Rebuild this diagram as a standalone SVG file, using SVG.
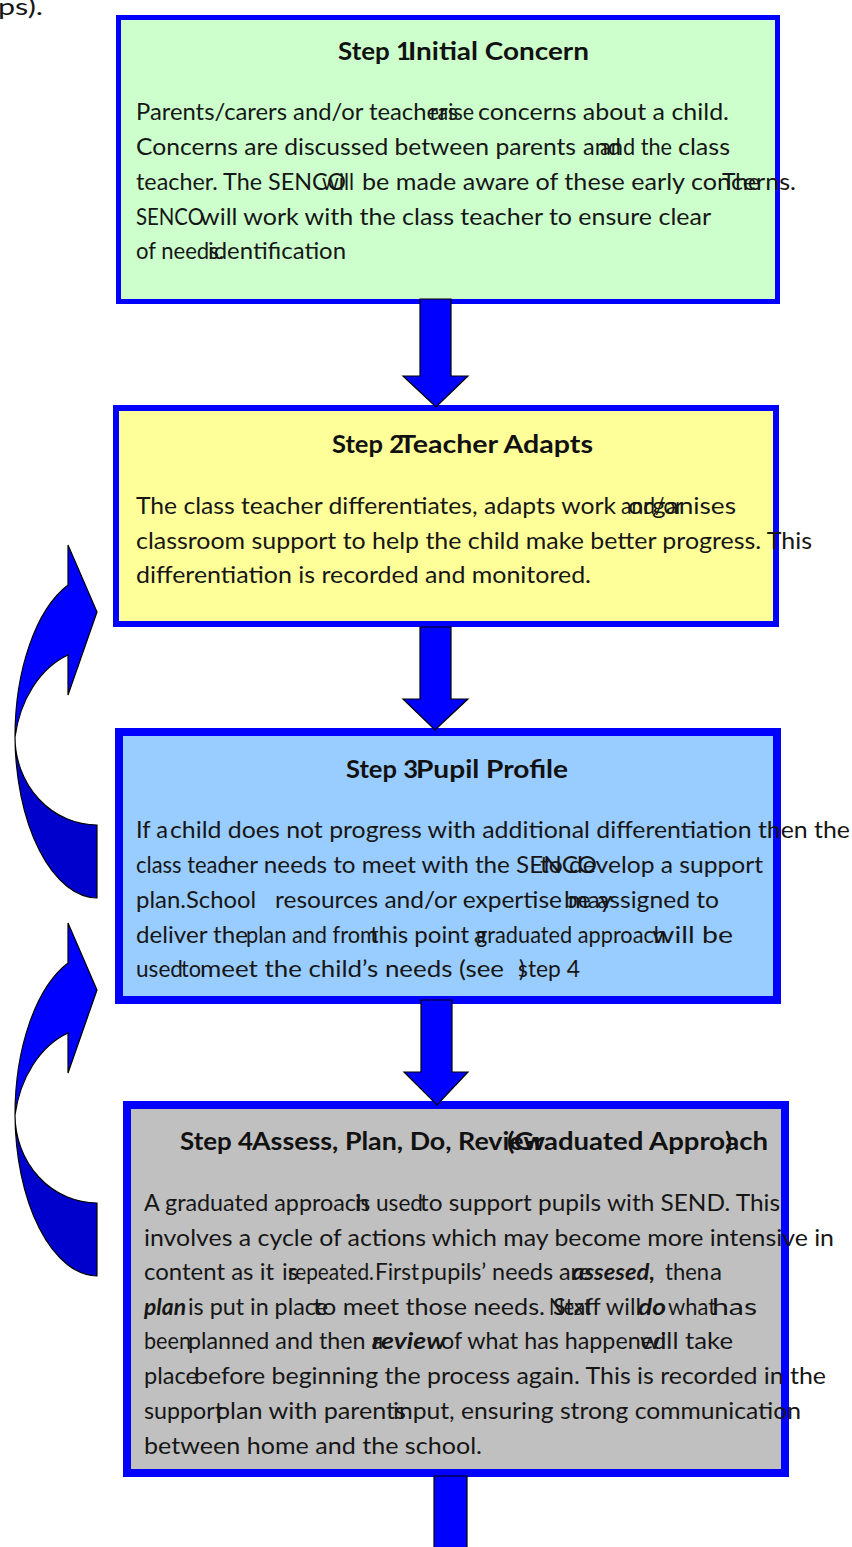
<svg xmlns="http://www.w3.org/2000/svg" width="852" height="1547" viewBox="0 0 852 1547">
<defs>
<style>
.t{font-family:Lato,"Open Sans","Liberation Sans",sans-serif;font-size:23.5px;fill:#161616}
.h{font-family:Lato,"Open Sans","Liberation Sans",sans-serif;font-size:24px;font-weight:bold;fill:#111}
.bi{font-weight:bold;font-style:italic}
.box{stroke:#0000ff}
.arr{fill:#0000ff;stroke:#000;stroke-width:1.2;stroke-linejoin:miter}
.dark{fill:#0000cc;stroke:#000;stroke-width:1.2}
</style>
</defs>
<rect x="0" y="0" width="852" height="1547" fill="#ffffff"/>
<text class="t" x="-2" y="15" textLength="45" lengthAdjust="spacingAndGlyphs">ps).</text>

<g id="step1">
<rect class="box" x="118.5" y="17.5" width="659" height="284" fill="#ccffcc" stroke-width="5"/>
<text class="h" x="338" y="60" textLength="73" lengthAdjust="spacingAndGlyphs">Step 1</text>
<text class="h" x="408" y="60" textLength="181" lengthAdjust="spacingAndGlyphs">Initial Concern</text>
<text class="t" x="136" y="120" textLength="322" lengthAdjust="spacingAndGlyphs">Parents/carers and/or teachers</text>
<text class="t" x="430" y="120" textLength="44" lengthAdjust="spacingAndGlyphs">raise</text>
<text class="t" x="478" y="120" textLength="251" lengthAdjust="spacingAndGlyphs">concerns about a child.</text>
<text class="t" x="136" y="155" textLength="440" lengthAdjust="spacingAndGlyphs">Concerns are discussed between parents</text>
<text class="t" x="583" y="155" textLength="38" lengthAdjust="spacingAndGlyphs">and</text>
<text class="t" x="600" y="155" textLength="72" lengthAdjust="spacingAndGlyphs">and the</text>
<text class="t" x="678" y="155" textLength="52" lengthAdjust="spacingAndGlyphs">class</text>
<text class="t" x="136" y="190" textLength="210" lengthAdjust="spacingAndGlyphs">teacher. The SENCO</text>
<text class="t" x="322" y="190" textLength="32" lengthAdjust="spacingAndGlyphs">will</text>
<text class="t" x="362" y="190" textLength="434" lengthAdjust="spacingAndGlyphs">be made aware of these early concerns.</text>
<text class="t" x="722" y="190" textLength="38" lengthAdjust="spacingAndGlyphs">The</text>
<text class="t" x="136" y="225" textLength="68" lengthAdjust="spacingAndGlyphs">SENCO</text>
<text class="t" x="200" y="225" textLength="511" lengthAdjust="spacingAndGlyphs">will work with the class teacher to ensure clear</text>
<text class="t" x="136" y="259" textLength="88" lengthAdjust="spacingAndGlyphs">of needs.</text>
<text class="t" x="208" y="259" textLength="138" lengthAdjust="spacingAndGlyphs">identification</text>
</g>

<g id="step2">
<rect class="box" x="116" y="408" width="660" height="216" fill="#ffff99" stroke-width="6"/>
<text class="h" x="332" y="453" textLength="72" lengthAdjust="spacingAndGlyphs">Step 2</text>
<text class="h" x="399" y="453" textLength="194" lengthAdjust="spacingAndGlyphs">Teacher Adapts</text>
<text class="t" x="136" y="514" textLength="480" lengthAdjust="spacingAndGlyphs">The class teacher differentiates, adapts work</text>
<text class="t" x="621" y="514" textLength="62" lengthAdjust="spacingAndGlyphs">and/or</text>
<text class="t" x="628" y="514" textLength="108" lengthAdjust="spacingAndGlyphs">organises</text>
<text class="t" x="136" y="549" textLength="676" lengthAdjust="spacingAndGlyphs">classroom support to help the child make better progress. This</text>
<text class="t" x="136" y="583" textLength="455" lengthAdjust="spacingAndGlyphs">differentiation is recorded and monitored.</text>
</g>

<g id="step3">
<rect class="box" x="119" y="732" width="658" height="268" fill="#99ccff" stroke-width="8"/>
<text class="h" x="346" y="778" textLength="72" lengthAdjust="spacingAndGlyphs">Step 3</text>
<text class="h" x="416" y="778" textLength="152" lengthAdjust="spacingAndGlyphs">Pupil Profile</text>
<text class="t" x="136" y="838" textLength="32" lengthAdjust="spacingAndGlyphs">If a</text>
<text class="t" x="170" y="838" textLength="680" lengthAdjust="spacingAndGlyphs">child does not progress with additional differentiation then the</text>
<text class="t" x="136" y="873" textLength="92" lengthAdjust="spacingAndGlyphs">class teac</text>
<text class="t" x="223" y="873" textLength="374" lengthAdjust="spacingAndGlyphs">her needs to meet with the SENCO</text>
<text class="t" x="540" y="873" textLength="223" lengthAdjust="spacingAndGlyphs">to develop a support</text>
<text class="t" x="136" y="908" textLength="50" lengthAdjust="spacingAndGlyphs">plan.</text>
<text class="t" x="186" y="908" textLength="70" lengthAdjust="spacingAndGlyphs">School</text>
<text class="t" x="275" y="908" textLength="287" lengthAdjust="spacingAndGlyphs">resources and/or expertise</text>
<text class="t" x="564" y="908" textLength="155" lengthAdjust="spacingAndGlyphs">be assigned to</text>
<text class="t" x="568" y="908" textLength="44" lengthAdjust="spacingAndGlyphs">may</text>
<text class="t" x="136" y="943" textLength="112" lengthAdjust="spacingAndGlyphs">deliver the</text>
<text class="t" x="246" y="943" textLength="132" lengthAdjust="spacingAndGlyphs">plan and from</text>
<text class="t" x="370" y="943" textLength="99" lengthAdjust="spacingAndGlyphs">this point</text>
<text class="t" x="474" y="943" textLength="12" lengthAdjust="spacingAndGlyphs">a</text>
<text class="t" x="476" y="943" textLength="190" lengthAdjust="spacingAndGlyphs">graduated approach</text>
<text class="t" x="652" y="943" textLength="81" lengthAdjust="spacingAndGlyphs">will be</text>
<text class="t" x="136" y="977" textLength="47" lengthAdjust="spacingAndGlyphs">used</text>
<text class="t" x="181" y="977" textLength="20" lengthAdjust="spacingAndGlyphs">to</text>
<text class="t" x="200" y="977" textLength="304" lengthAdjust="spacingAndGlyphs">meet the child’s needs (see</text>
<text class="t" x="518" y="977" textLength="62" lengthAdjust="spacingAndGlyphs">step 4</text>
<text class="t" x="519" y="977" textLength="6" lengthAdjust="spacingAndGlyphs">)</text>
</g>

<g id="step4">
<rect class="box" x="127" y="1105" width="658" height="368" fill="#c0c0c0" stroke-width="8"/>
<text class="h" x="180" y="1150" textLength="73" lengthAdjust="spacingAndGlyphs">Step 4</text>
<text class="h" x="252" y="1150" textLength="293" lengthAdjust="spacingAndGlyphs">Assess, Plan, Do, Review</text>
<text class="h" x="507" y="1150" textLength="261" lengthAdjust="spacingAndGlyphs">(Graduated Approach</text>
<text class="h" x="725" y="1150" textLength="7" lengthAdjust="spacingAndGlyphs">)</text>
<text class="t" x="144" y="1211" textLength="225" lengthAdjust="spacingAndGlyphs">A graduated approach</text>
<text class="t" x="355" y="1211" textLength="68" lengthAdjust="spacingAndGlyphs">is used</text>
<text class="t" x="420" y="1211" textLength="360" lengthAdjust="spacingAndGlyphs">to support pupils with SEND. This</text>
<text class="t" x="144" y="1246" textLength="690" lengthAdjust="spacingAndGlyphs">involves a cycle of actions which may become more intensive in</text>
<text class="t" x="144" y="1280" textLength="130" lengthAdjust="spacingAndGlyphs">content as it</text>
<text class="t" x="282" y="1280" textLength="16" lengthAdjust="spacingAndGlyphs">is</text>
<text class="t" x="288" y="1280" textLength="86" lengthAdjust="spacingAndGlyphs">repeated.</text>
<text class="t" x="375" y="1280" textLength="44" lengthAdjust="spacingAndGlyphs">First</text>
<text class="t" x="421" y="1280" textLength="170" lengthAdjust="spacingAndGlyphs">pupils’ needs are</text>
<text class="t bi" x="572" y="1280" textLength="83" lengthAdjust="spacingAndGlyphs">assesed,</text>
<text class="t" x="665" y="1280" textLength="44" lengthAdjust="spacingAndGlyphs">then</text>
<text class="t" x="710" y="1280" textLength="12" lengthAdjust="spacingAndGlyphs">a</text>
<text class="t bi" x="144" y="1315" textLength="42" lengthAdjust="spacingAndGlyphs">plan</text>
<text class="t" x="188" y="1315" textLength="140" lengthAdjust="spacingAndGlyphs">is put in place</text>
<text class="t" x="313" y="1315" textLength="232" lengthAdjust="spacingAndGlyphs">to meet those needs.</text>
<text class="t" x="549" y="1315" textLength="42" lengthAdjust="spacingAndGlyphs">Next</text>
<text class="t" x="553" y="1315" textLength="88" lengthAdjust="spacingAndGlyphs">Staff will</text>
<text class="t bi" x="638" y="1315" textLength="28" lengthAdjust="spacingAndGlyphs">do</text>
<text class="t" x="668" y="1315" textLength="48" lengthAdjust="spacingAndGlyphs">what</text>
<text class="t" x="712" y="1315" textLength="45" lengthAdjust="spacingAndGlyphs">has</text>
<text class="t" x="144" y="1349" textLength="47" lengthAdjust="spacingAndGlyphs">been</text>
<text class="t" x="188" y="1349" textLength="195" lengthAdjust="spacingAndGlyphs">planned and then a</text>
<text class="t bi" x="372" y="1349" textLength="74" lengthAdjust="spacingAndGlyphs">review</text>
<text class="t" x="441" y="1349" textLength="225" lengthAdjust="spacingAndGlyphs">of what has happened</text>
<text class="t" x="640" y="1349" textLength="93" lengthAdjust="spacingAndGlyphs">will take</text>
<text class="t" x="144" y="1384" textLength="54" lengthAdjust="spacingAndGlyphs">place</text>
<text class="t" x="194" y="1384" textLength="632" lengthAdjust="spacingAndGlyphs">before beginning the process again. This is recorded in the</text>
<text class="t" x="144" y="1419" textLength="79" lengthAdjust="spacingAndGlyphs">support</text>
<text class="t" x="216" y="1419" textLength="190" lengthAdjust="spacingAndGlyphs">plan with parents</text>
<text class="t" x="393" y="1419" textLength="408" lengthAdjust="spacingAndGlyphs">input, ensuring strong communication</text>
<text class="t" x="144" y="1454" textLength="338" lengthAdjust="spacingAndGlyphs">between home and the school.</text>
</g>

<g id="connectors">
<polygon class="arr" points="420,299 451,299 451,376 468,376 436,407 403,376 420,376"/>
<polygon class="arr" points="420,627 451,627 451,699 468,699 435,730 403,699 420,699"/>
<polygon class="arr" points="421,1000 452,1000 452,1072 468,1072 437,1105 404,1072 421,1072"/>
<polygon class="arr" points="434,1476 467,1476 467,1550 434,1550"/>
<g id="loop1">
<path class="arr" d="M68,585 L68,545 L97,612 L68,695 L68,655 C40,668 20,700 15,737 A83 163 0 0 1 68,585 Z"/>
<path class="dark" d="M15,737 A83 163 0 0 0 97,898 L97,825 A82 88 0 0 1 15,737 Z"/>
</g>
<g id="loop2" transform="translate(0,378)">
<path class="arr" d="M68,585 L68,545 L97,612 L68,695 L68,655 C40,668 20,700 15,737 A83 163 0 0 1 68,585 Z"/>
<path class="dark" d="M15,737 A83 163 0 0 0 97,898 L97,825 A82 88 0 0 1 15,737 Z"/>
</g>
</g>
</svg>
